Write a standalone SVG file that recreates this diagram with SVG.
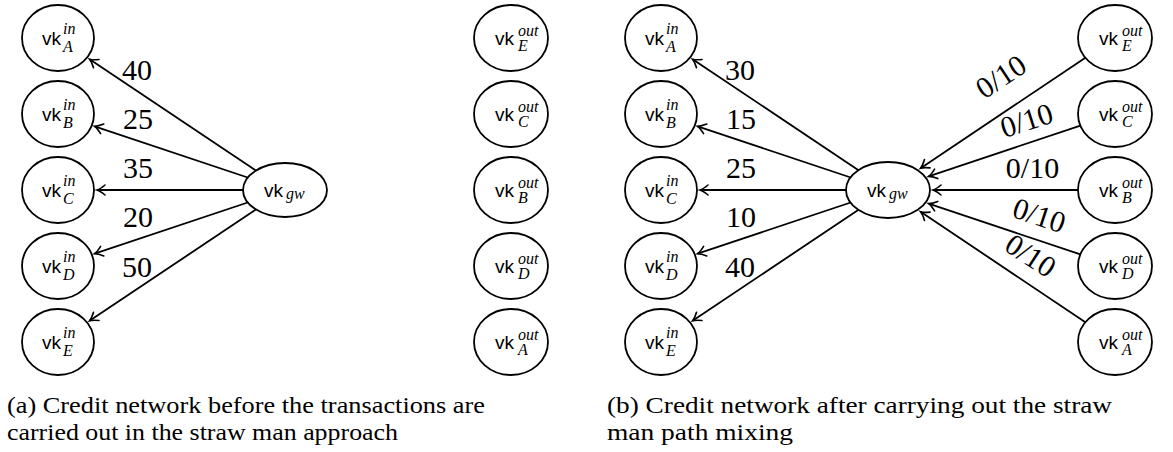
<svg xmlns="http://www.w3.org/2000/svg" width="1173" height="452" viewBox="0 0 1173 452">
<style>
.n{fill:#fff;stroke:#000;stroke-width:1.8}
.vk{font-family:'Liberation Sans','DejaVu Sans',sans-serif;font-size:19px;fill:#000}
.sc{font-family:'Liberation Serif','DejaVu Serif',serif;font-style:italic;font-size:16px;fill:#000}
.e{stroke:#000;stroke-width:1.8;fill:none;marker-end:url(#arr)}
.lb{font-family:'Liberation Serif','DejaVu Serif',serif;font-size:30px;fill:#000;text-anchor:middle}
.cap{font-family:'Liberation Serif','DejaVu Serif',serif;font-size:23px;fill:#000}
</style>
<defs>
<marker id="arr" markerUnits="userSpaceOnUse" markerWidth="14" markerHeight="14" viewBox="-11 -7 14 14" refX="0" refY="0" orient="auto" overflow="visible">
<path d="M-8,-5 C-5,-2.5 -2,-0.6 0,0 C-2,0.6 -5,2.5 -8,5" fill="none" stroke="#000" stroke-width="1.6" stroke-linecap="round"/>
</marker>
</defs>

<g id="connectors">
<g id="edges-a">
<line class="e" x1="255.9" y1="170.5" x2="89.6" y2="59.2"/>
<line class="e" x1="247.7" y1="177.5" x2="94.6" y2="126.3"/>
<line class="e" x1="243" y1="190" x2="97" y2="190"/>
<line class="e" x1="247.7" y1="202.5" x2="94.6" y2="253.7"/>
<line class="e" x1="255.9" y1="209.5" x2="89.6" y2="320.8"/>
</g>
<g id="edges-b">
<line class="e" x1="858.9" y1="170.5" x2="692.6" y2="59.2"/>
<line class="e" x1="850.7" y1="177.5" x2="697.6" y2="126.3"/>
<line class="e" x1="846" y1="190" x2="700" y2="190"/>
<line class="e" x1="850.7" y1="202.5" x2="697.6" y2="253.7"/>
<line class="e" x1="858.9" y1="209.5" x2="692.6" y2="320.8"/>
<line class="e" x1="1085.4" y1="57.8" x2="920.6" y2="168.2"/>
<line class="e" x1="1080.4" y1="125.6" x2="928.6" y2="176.4"/>
<line class="e" x1="1078" y1="190" x2="933" y2="190"/>
<line class="e" x1="1080.4" y1="254.4" x2="928.6" y2="203.6"/>
<line class="e" x1="1085.4" y1="322.2" x2="920.6" y2="211.8"/>
</g>
<g id="edge-labels">
<text class="lb" x="137" y="80">40</text>
<text class="lb" x="138" y="129">25</text>
<text class="lb" x="138" y="178">35</text>
<text class="lb" x="138" y="227">20</text>
<text class="lb" x="137" y="277">50</text>
<text class="lb" x="740" y="80">30</text>
<text class="lb" x="741" y="129">15</text>
<text class="lb" x="741" y="178">25</text>
<text class="lb" x="741" y="227">10</text>
<text class="lb" x="740" y="277">40</text>
<text class="lb" transform="translate(1001.5,77.5) rotate(-33.7)" x="0" y="9">0/10</text>
<text class="lb" transform="translate(1027,121.5) rotate(-17.7)" x="0" y="9">0/10</text>
<text class="lb" x="1032.5" y="178">0/10</text>
<text class="lb" transform="translate(1039,216.5) rotate(18.4)" x="0" y="9">0/10</text>
<text class="lb" transform="translate(1030,256.5) rotate(33)" x="0" y="9">0/10</text>
</g>
</g>

<!-- panel (a) -->
<g id="a-inA"><ellipse class="n" cx="58" cy="38" rx="36" ry="33"/><text class="vk" x="42" y="45">vk</text><text class="sc" x="63" y="34">in</text><text class="sc" x="63" y="52">A</text></g>
<g id="a-inB"><ellipse class="n" cx="58" cy="114" rx="36" ry="33"/><text class="vk" x="42" y="121">vk</text><text class="sc" x="63" y="110">in</text><text class="sc" x="63" y="128">B</text></g>
<g id="a-inC"><ellipse class="n" cx="58" cy="190" rx="36" ry="33"/><text class="vk" x="42" y="197">vk</text><text class="sc" x="63" y="186">in</text><text class="sc" x="63" y="204">C</text></g>
<g id="a-inD"><ellipse class="n" cx="58" cy="266" rx="36" ry="33"/><text class="vk" x="42" y="273">vk</text><text class="sc" x="63" y="262">in</text><text class="sc" x="63" y="280">D</text></g>
<g id="a-inE"><ellipse class="n" cx="58" cy="342" rx="36" ry="33"/><text class="vk" x="42" y="349">vk</text><text class="sc" x="63" y="338">in</text><text class="sc" x="63" y="356">E</text></g>
<g id="a-gw"><ellipse class="n" cx="285" cy="190" rx="42" ry="27"/><text class="vk" x="264" y="197">vk</text><text class="sc" x="286" y="199">gw</text></g>
<g id="a-outE"><ellipse class="n" cx="511" cy="38" rx="37" ry="33"/><text class="vk" x="495" y="45">vk</text><text class="sc" x="518" y="36">out</text><text class="sc" x="518" y="51">E</text></g>
<g id="a-outC"><ellipse class="n" cx="511" cy="114" rx="37" ry="33"/><text class="vk" x="495" y="121">vk</text><text class="sc" x="518" y="112">out</text><text class="sc" x="518" y="127">C</text></g>
<g id="a-outB"><ellipse class="n" cx="511" cy="190" rx="37" ry="33"/><text class="vk" x="495" y="197">vk</text><text class="sc" x="518" y="188">out</text><text class="sc" x="518" y="203">B</text></g>
<g id="a-outD"><ellipse class="n" cx="511" cy="266" rx="37" ry="33"/><text class="vk" x="495" y="273">vk</text><text class="sc" x="518" y="264">out</text><text class="sc" x="518" y="279">D</text></g>
<g id="a-outA"><ellipse class="n" cx="511" cy="342" rx="37" ry="33"/><text class="vk" x="495" y="349">vk</text><text class="sc" x="518" y="340">out</text><text class="sc" x="518" y="355">A</text></g>

<!-- panel (b) -->
<g id="b-inA"><ellipse class="n" cx="661" cy="38" rx="36" ry="33"/><text class="vk" x="645" y="45">vk</text><text class="sc" x="666" y="34">in</text><text class="sc" x="666" y="52">A</text></g>
<g id="b-inB"><ellipse class="n" cx="661" cy="114" rx="36" ry="33"/><text class="vk" x="645" y="121">vk</text><text class="sc" x="666" y="110">in</text><text class="sc" x="666" y="128">B</text></g>
<g id="b-inC"><ellipse class="n" cx="661" cy="190" rx="36" ry="33"/><text class="vk" x="645" y="197">vk</text><text class="sc" x="666" y="186">in</text><text class="sc" x="666" y="204">C</text></g>
<g id="b-inD"><ellipse class="n" cx="661" cy="266" rx="36" ry="33"/><text class="vk" x="645" y="273">vk</text><text class="sc" x="666" y="262">in</text><text class="sc" x="666" y="280">D</text></g>
<g id="b-inE"><ellipse class="n" cx="661" cy="342" rx="36" ry="33"/><text class="vk" x="645" y="349">vk</text><text class="sc" x="666" y="338">in</text><text class="sc" x="666" y="356">E</text></g>
<g id="b-gw"><ellipse class="n" cx="888" cy="190" rx="42" ry="28"/><text class="vk" x="867" y="197">vk</text><text class="sc" x="889" y="199">gw</text></g>
<g id="b-outE"><ellipse class="n" cx="1115" cy="38" rx="37" ry="33"/><text class="vk" x="1099" y="45">vk</text><text class="sc" x="1122" y="36">out</text><text class="sc" x="1122" y="51">E</text></g>
<g id="b-outC"><ellipse class="n" cx="1115" cy="114" rx="37" ry="33"/><text class="vk" x="1099" y="121">vk</text><text class="sc" x="1122" y="112">out</text><text class="sc" x="1122" y="127">C</text></g>
<g id="b-outB"><ellipse class="n" cx="1115" cy="190" rx="37" ry="33"/><text class="vk" x="1099" y="197">vk</text><text class="sc" x="1122" y="188">out</text><text class="sc" x="1122" y="203">B</text></g>
<g id="b-outD"><ellipse class="n" cx="1115" cy="266" rx="37" ry="33"/><text class="vk" x="1099" y="273">vk</text><text class="sc" x="1122" y="264">out</text><text class="sc" x="1122" y="279">D</text></g>
<g id="b-outA"><ellipse class="n" cx="1115" cy="342" rx="37" ry="33"/><text class="vk" x="1099" y="349">vk</text><text class="sc" x="1122" y="340">out</text><text class="sc" x="1122" y="355">A</text></g>

<g id="captions">
<text class="cap" x="7" y="413" textLength="478" lengthAdjust="spacingAndGlyphs">(a) Credit network before the transactions are</text>
<text class="cap" x="7" y="440" textLength="391" lengthAdjust="spacingAndGlyphs">carried out in the straw man approach</text>
<text class="cap" x="607" y="413" textLength="505" lengthAdjust="spacingAndGlyphs">(b) Credit network after carrying out the straw</text>
<text class="cap" x="607" y="440" textLength="186" lengthAdjust="spacingAndGlyphs">man path mixing</text>
</g>
</svg>
